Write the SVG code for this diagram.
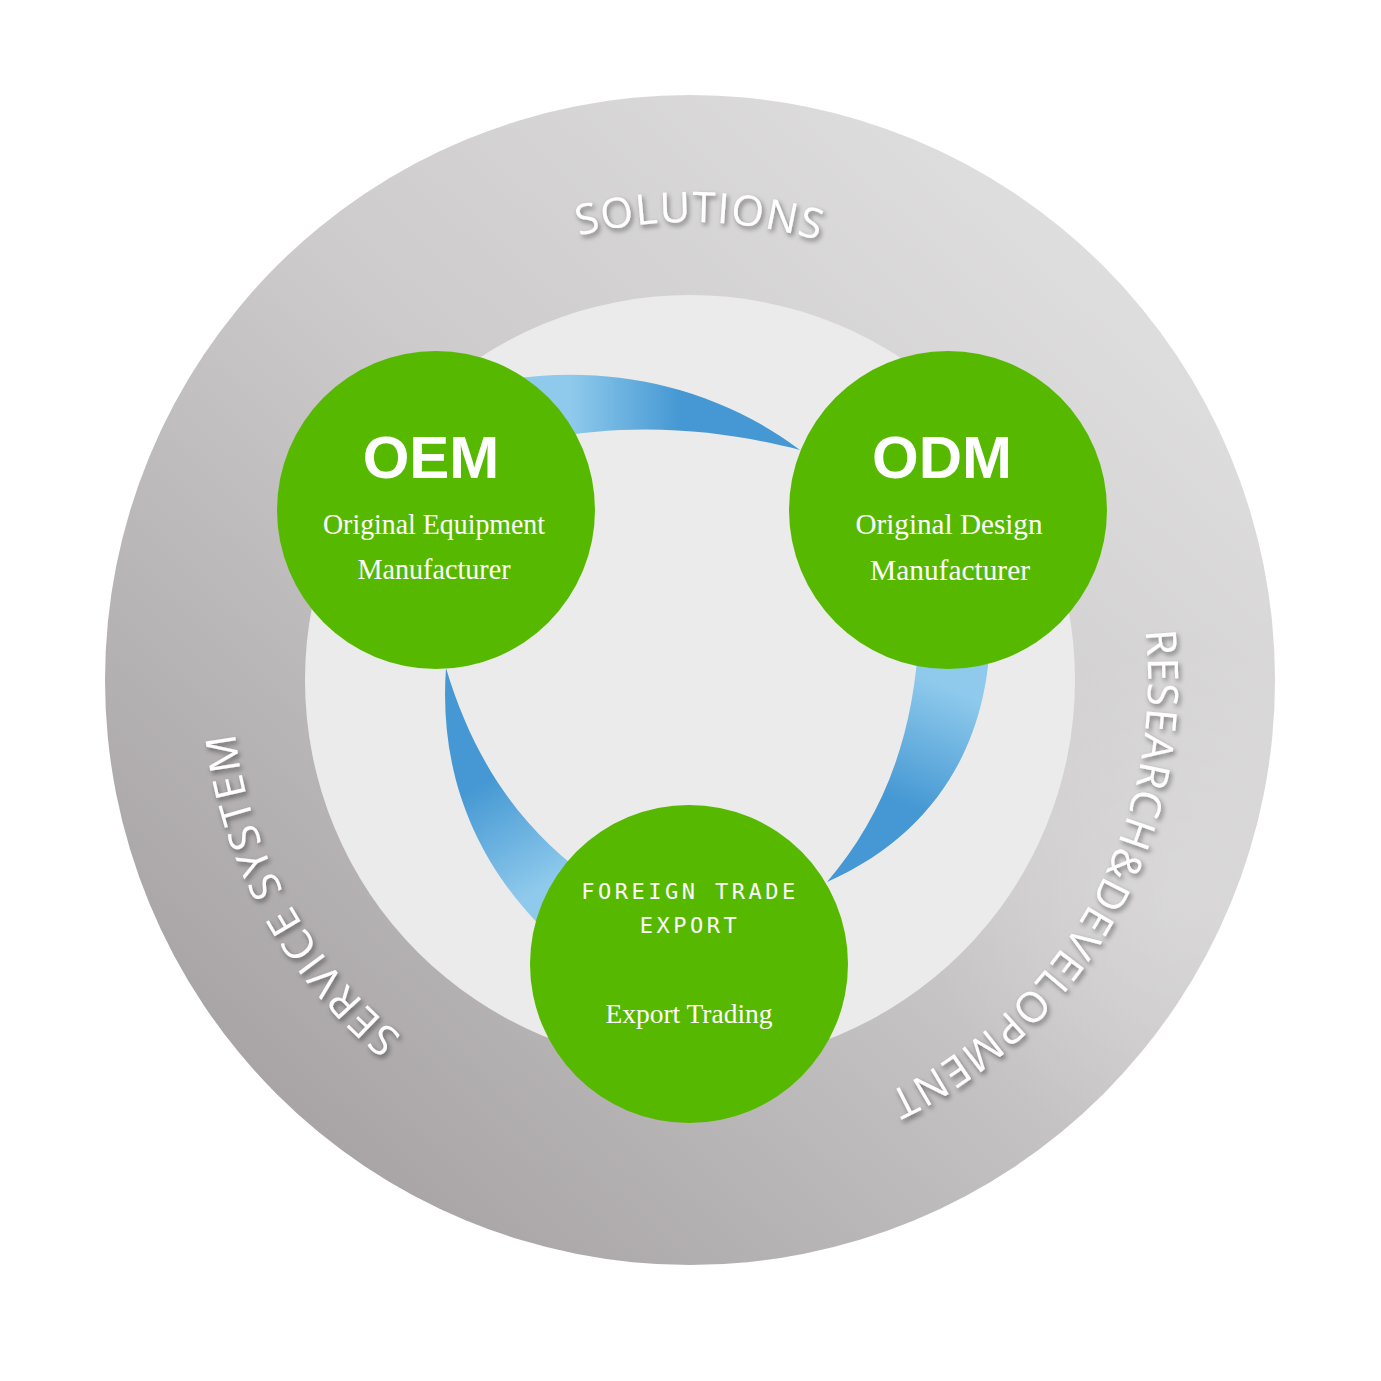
<svg xmlns="http://www.w3.org/2000/svg" width="1381" height="1381" viewBox="0 0 1381 1381">
  <defs>
    <linearGradient id="ringGrad" gradientUnits="userSpaceOnUse" x1="1100" y1="250" x2="300" y2="1110">
      <stop offset="0" stop-color="#dfdedf"/>
      <stop offset="0.45" stop-color="#cdcbcc"/>
      <stop offset="1" stop-color="#a9a5a6"/>
    </linearGradient>
    <radialGradient id="sheen" gradientUnits="userSpaceOnUse" cx="1180" cy="900" r="260">
      <stop offset="0" stop-color="#ffffff" stop-opacity="0.18"/>
      <stop offset="1" stop-color="#ffffff" stop-opacity="0"/>
    </radialGradient>
    <linearGradient id="blueTop" gradientUnits="userSpaceOnUse" x1="570" y1="400" x2="680" y2="400">
      <stop offset="0" stop-color="#8fcaec"/>
      <stop offset="1" stop-color="#4598d3"/>
    </linearGradient>
    <linearGradient id="blueRight" gradientUnits="userSpaceOnUse" x1="955" y1="690" x2="905" y2="805">
      <stop offset="0" stop-color="#8fcaec"/>
      <stop offset="1" stop-color="#4598d3"/>
    </linearGradient>
    <linearGradient id="blueLeft" gradientUnits="userSpaceOnUse" x1="540" y1="890" x2="478" y2="785">
      <stop offset="0" stop-color="#8fcaec"/>
      <stop offset="1" stop-color="#4598d3"/>
    </linearGradient>
    <filter id="shadow" x="-20%" y="-20%" width="140%" height="140%">
      <feDropShadow dx="2" dy="3" stdDeviation="2.5" flood-color="#000000" flood-opacity="0.45"/>
    </filter>
    <path id="ringPath" d="M 232 680 A 458 458 0 1 1 1148 680 A 458 458 0 1 1 232 680"/>
    <style>
      .node { fill: #56b900; }
      .ringLabel { font-family: "Open Sans", "Noto Sans", sans-serif; font-size: 42px; fill: #ffffff; filter: url(#shadow); }
      .abbr { font-family: "Liberation Sans", Arial, sans-serif; font-weight: bold; font-size: 60px; fill: #ffffff; text-anchor: middle; }
      .serif { font-family: "Liberation Serif", "Times New Roman", serif; font-size: 29px; fill: #ffffff; text-anchor: middle; }
      .mono { font-family: "DejaVu Sans Mono", "Liberation Mono", monospace; font-size: 22px; fill: #ffffff; text-anchor: middle; letter-spacing: 3.5px; }
    </style>
  </defs>

  <rect width="1381" height="1381" fill="#ffffff"/>

  <g id="background">
    <circle cx="690" cy="680" r="585" fill="url(#ringGrad)"/>
    <circle cx="690" cy="680" r="585" fill="url(#sheen)"/>
    <circle cx="690" cy="680" r="385" fill="#ebebeb"/>
  </g>

  <g id="ring-labels">
    <text class="ringLabel" letter-spacing="1.5"><textPath href="#ringPath" startOffset="729" text-anchor="middle">SOLUTIONS</textPath></text>
    <text class="ringLabel" letter-spacing="1.6"><textPath href="#ringPath" startOffset="1672" text-anchor="middle">RESEARCH&amp;DEVELOPMENT</textPath></text>
    <text class="ringLabel" letter-spacing="2.4"><textPath href="#ringPath" startOffset="2648" text-anchor="middle">SERVICE SYSTEM</textPath></text>
  </g>

  <g id="connectors">
    <path d="M 480 385 C 580 362, 700 375, 800 450 C 730 432, 640 420, 540 440 Z" fill="url(#blueTop)"/>
    <path d="M 990 630 C 990 730, 945 830, 827 882 C 880 820, 915 740, 919 630 Z" fill="url(#blueRight)"/>
    <path d="M 446 668 C 438 780, 480 880, 575 958 L 600 885 C 525 835, 475 765, 446 668 Z" fill="url(#blueLeft)"/>
  </g>

  <g id="oem">
    <circle class="node" cx="436" cy="510" r="159"/>
    <text class="abbr" x="431" y="478">OEM</text>
    <text class="serif" x="434" y="534" textLength="222" lengthAdjust="spacingAndGlyphs">Original Equipment</text>
    <text class="serif" x="434" y="579" textLength="153" lengthAdjust="spacingAndGlyphs">Manufacturer</text>
  </g>

  <g id="odm">
    <circle class="node" cx="948" cy="510" r="159"/>
    <text class="abbr" x="942" y="478">ODM</text>
    <text class="serif" x="949" y="534" textLength="187" lengthAdjust="spacingAndGlyphs">Original Design</text>
    <text class="serif" x="950" y="580" textLength="160" lengthAdjust="spacingAndGlyphs">Manufacturer</text>
  </g>

  <g id="export">
    <circle class="node" cx="689" cy="964" r="159"/>
    <text class="mono" x="690" y="899">FOREIGN TRADE</text>
    <text class="mono" x="690" y="933">EXPORT</text>
    <text class="serif" x="689" y="1023" style="font-size:27px" textLength="167" lengthAdjust="spacingAndGlyphs">Export Trading</text>
  </g>
</svg>
